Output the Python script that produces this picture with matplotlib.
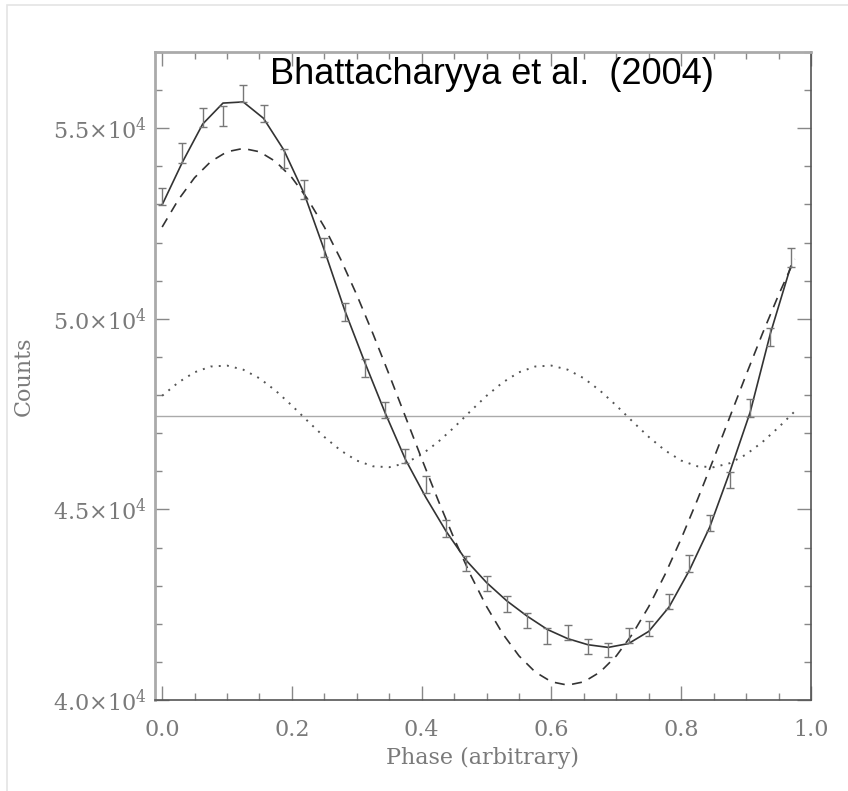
import matplotlib
matplotlib.use('agg')
import matplotlib.pyplot as plt
from matplotlib.ticker import MultipleLocator, FixedLocator, FixedFormatter
from matplotlib.patches import Rectangle

# phase bins (32 per cycle)
phase = [i / 32 for i in range(32)]

counts = [53210, 54350, 55280, 55310, 55910, 55390, 54210, 53400,
          51870, 50190, 48710, 47610, 46400, 45650, 44500, 43570,
          43060, 42520, 42090, 41680, 41770, 41400, 41310, 41690,
          41870, 42590, 43580, 44640, 45770, 47660, 49520, 51610]
count_err = [223, 262, 249, 262, 218, 218, 244, 249, 249, 236, 236, 218,
             190, 228, 228, 197, 205, 205, 197, 202, 202, 197, 189, 189,
             202, 197, 218, 218, 218, 231, 236, 249]

# two-component fit evaluated at the bins
fit_total = [52990, 54110, 55110, 55660, 55690, 55260, 54430, 53290,
             51800, 50230, 48850, 47530, 46310, 45320, 44430, 43660,
             43080, 42600, 42200, 41850, 41610, 41450, 41380, 41480,
             41800, 42440, 43400, 44530, 45990, 47550, 49620, 51380]

# single components, sampled every 0.025
comp_phase = [i * 0.025 for i in range(40)]
fundamental = [52408, 53125, 53703, 54126, 54383, 54470, 54383, 54126,
               53703, 53125, 52408, 51568, 50626, 49605, 48531, 47430,
               46329, 45255, 44234, 43292, 42452, 41735, 41157, 40734,
               40477, 40390, 40477, 40734, 41157, 41735, 42452, 43292,
               44234, 45255, 46329, 47430, 48531, 49605, 50626, 51568]
harmonic = [47981, 48332, 48598, 48749, 48773, 48666, 48440, 48114,
            47724, 47306, 46901, 46548, 46281, 46131, 46107, 46213,
            46442, 46766, 47152, 47574, 47981, 48332, 48598, 48749,
            48773, 48666, 48440, 48114, 47724, 47306, 46901, 46548,
            46281, 46131, 46107, 46213, 46442, 46766, 47152, 47574]
mean_level = 47440

ytick_vals = [40000, 45000, 50000, 55000]
ytick_labels = ['4.0×10$^4$', '4.5×10$^4$', '5.0×10$^4$', '5.5×10$^4$']

plt.rcParams['mathtext.fontset'] = 'dejavuserif'

W, H = 848, 791
fig = plt.figure(figsize=(W / 100, H / 100), dpi=100)
ax = fig.add_axes([155 / W, 1 - 700 / H, (811 - 155) / W, (700 - 52) / H])

fig.patches.append(Rectangle((7 / W, -0.1), 1.2, 1 - 5 / H + 0.1,
                             transform=fig.transFigure, fill=False,
                             edgecolor='#e4e4e4', lw=1.2))

dark = '#333333'
ax.axhline(mean_level, color='#aaaaaa', lw=1.0)
ax.plot(comp_phase, harmonic, color='#555555', lw=1.4, linestyle=(0, (1, 3.2)))
ax.plot(comp_phase, fundamental, color=dark, lw=1.2, dashes=(6, 4.5))
ax.plot(phase, fit_total, color=dark, lw=1.2)
ax.errorbar(phase, counts, yerr=count_err, fmt='none', ecolor='#777777',
            elinewidth=1.0, capsize=3, capthick=1.0)

ax.set_xlim(-0.011, 1.0)
ax.set_ylim(40000, 57000)

ax.xaxis.set_major_locator(MultipleLocator(0.2))
ax.xaxis.set_minor_locator(MultipleLocator(0.05))
ax.xaxis.set_major_formatter(matplotlib.ticker.FormatStrFormatter('%.1f'))
ax.yaxis.set_major_locator(FixedLocator(ytick_vals))
ax.yaxis.set_major_formatter(FixedFormatter(ytick_labels))
ax.yaxis.set_minor_locator(MultipleLocator(1000))

ax.tick_params(which='both', direction='in', top=True, right=True,
               colors='#888888', labelcolor='#7a7a7a')
ax.tick_params(which='major', length=10, width=1)
ax.tick_params(which='minor', length=5, width=1)
ax.tick_params(axis='x', pad=14)
ax.tick_params(axis='y', pad=6)
for lab in ax.get_xticklabels() + ax.get_yticklabels():
    lab.set_fontfamily('DejaVu Serif')
    lab.set_fontsize(16)

for side in ('left', 'top'):
    ax.spines[side].set_color('#aaaaaa')
    ax.spines[side].set_linewidth(2.0)
for side in ('bottom', 'right'):
    ax.spines[side].set_color('#555555')
    ax.spines[side].set_linewidth(1.2)

ax.set_xlabel('Phase (arbitrary)', fontfamily='DejaVu Serif', fontsize=16,
              color='#7a7a7a', labelpad=4)
ax.set_ylabel('Counts', fontfamily='DejaVu Serif', fontsize=16,
              color='#7a7a7a', labelpad=13)

fig.text(270 / W, 1 - 84 / H, 'Bhattacharyya et al.  (2004)',
         family='Liberation Sans', fontsize=26, color='black',
         ha='left', va='baseline')

fig.savefig('out.png', dpi=100)
